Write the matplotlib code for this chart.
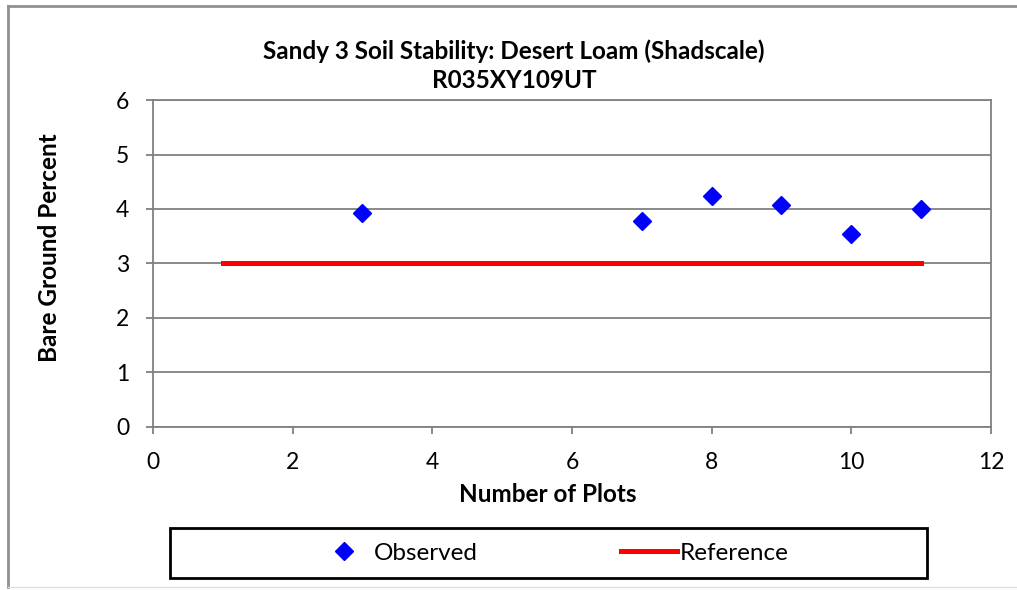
import matplotlib.pyplot as plt
from matplotlib.lines import Line2D
from matplotlib.patches import Rectangle

plt.rcParams['font.family'] = ['Lato', 'DejaVu Sans']

# observed plots and the reference value
plot_numbers = [3, 7, 8, 9, 10, 11]
bare_ground = [3.93, 3.78, 4.23, 4.08, 3.55, 4.0]
ref_x = [1, 11]
ref_y = [3, 3]

x_ticks = [0, 2, 4, 6, 8, 10, 12]
y_ticks = [0, 1, 2, 3, 4, 5, 6]

W, H = 1017, 590
fig = plt.figure(figsize=(W / 100, H / 100), dpi=100)
ax = fig.add_axes([0.1504, 0.2763, 0.8240, 0.5542])

ax.set_xlim(0, 12)
ax.set_ylim(0, 6)
ax.set_xticks(x_ticks)
ax.set_yticks(y_ticks)
ax.grid(axis='y', color='#808080', linewidth=1.3)
ax.set_axisbelow(True)
for s in ax.spines.values():
    s.set_color('#808080')
    s.set_linewidth(1.3)
ax.tick_params(colors='#808080', labelcolor='black', labelsize=16.5, length=5, width=1.3)
ax.tick_params(axis='x', pad=13)
ax.tick_params(axis='y', pad=12)

ax.plot(ref_x, ref_y, color='#ff0000', linewidth=3.6, label='Reference', zorder=3)
ax.plot(plot_numbers, bare_ground, linestyle='none', marker='D', markersize=9,
        color='#0000ff', label='Observed', zorder=4)

# titles placed on the figure (centred on the chart area, not the plot)
fig.text(514 / W, 1 - 51 / H, 'Sandy 3 Soil Stability: Desert Loam (Shadscale)',
         ha='center', va='center', fontsize=17.5, fontweight='bold')
fig.text(514 / W, 1 - 81 / H, 'R035XY109UT',
         ha='center', va='center', fontsize=17.5, fontweight='bold')
fig.text(548 / W, 1 - 495 / H, 'Number of Plots',
         ha='center', va='center', fontsize=17.5, fontweight='bold')
fig.text(50 / W, 1 - 248 / H, 'Bare Ground Percent', rotation=90,
         ha='center', va='center', fontsize=17.5, fontweight='bold')

# legend below the chart, in a plain black box
fig.add_artist(Rectangle((170 / W, 1 - 578 / H), 757 / W, 50 / H,
                         transform=fig.transFigure, fill=False,
                         edgecolor='black', linewidth=2))
handles, labels = ax.get_legend_handles_labels()
fig.legend(handles[::-1], labels[::-1], loc='center', bbox_to_anchor=(552 / W, 1 - 553 / H),
           ncol=2, frameon=False, fontsize=17.5, columnspacing=5.9, handlelength=2.3,
           handletextpad=0.1)

# outer chart border
fig.add_artist(Line2D([8 / W, 8 / W], [1 - 6 / H, 1 - 587 / H],
                      transform=fig.transFigure, color='#909090', linewidth=2))
fig.add_artist(Line2D([8 / W, 1.0], [1 - 6 / H, 1 - 6 / H],
                      transform=fig.transFigure, color='#909090', linewidth=2))
fig.add_artist(Line2D([8 / W, 1.0], [1 - 587 / H, 1 - 587 / H],
                      transform=fig.transFigure, color='#e0e0e0', linewidth=1))

fig.savefig('out.png', dpi=100)
